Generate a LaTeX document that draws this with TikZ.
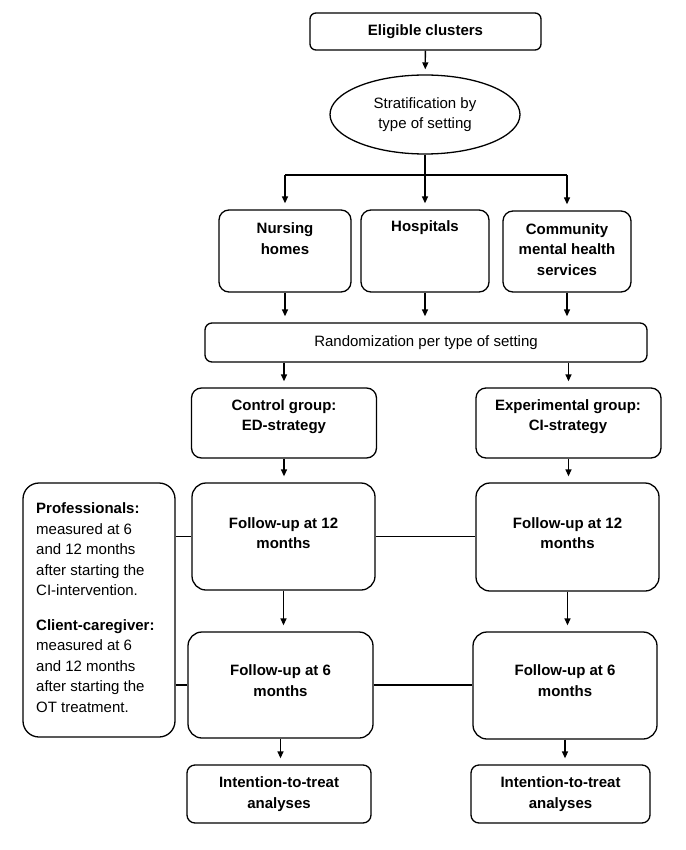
\documentclass[tikz,border=0pt]{standalone}
\usepackage{fontspec}
\setmainfont{Liberation Sans}
\usetikzlibrary{shapes.geometric,arrows.meta}

\newcommand{\diagfont}{\fontsize{15}{20.5}\selectfont}

\tikzset{
  box/.style={draw, line width=1.3pt, rounded corners=10pt, inner sep=0pt},
  lbl/.style={font=\diagfont\bfseries, align=center, inner sep=0pt},
  arr/.style={-{Triangle[length=7pt,width=6pt]}, line width=1.3pt, shorten >=6pt},
  link/.style={line width=1.2pt},
}

\begin{document}
\begin{tikzpicture}[x=1pt,y=-1pt]
\useasboundingbox (0,0) rectangle (685,850);

% top
\node[box, rounded corners=6pt, minimum width=231, minimum height=37, font=\diagfont\bfseries] (elig) at (425.5,31.5) {Eligible clusters};
\node[draw, ellipse, line width=1.3pt, minimum width=190, minimum height=79, inner sep=0pt, align=center, font=\diagfont] (strat) at (425,114.5) {Stratification by\\type of setting};

% settings
\node[box, minimum width=132, minimum height=82] (nh) at (285,251) {};
\node[lbl] (nhtext) at (285,238.5) {Nursing\\homes};
\node[box, minimum width=128, minimum height=82] (hosp) at (425,251) {};
\node[lbl] (hosptext) at (425,228) {Hospitals};
\node[box, minimum width=128, minimum height=81] (cmhs) at (567,251.5) {};
\node[lbl] (cmhstext) at (567,249.5) {Community\\mental health\\services};

\node[box, rounded corners=7pt, minimum width=442, minimum height=39, font=\diagfont] (rand) at (426,342.5) {Randomization per type of setting};

% groups
\node[box, minimum width=185, minimum height=70] (ctrl) at (284,423) {};
\node[lbl] (ctrltext) at (284,416.5) {Control group:\\ED-strategy};
\node[box, minimum width=185, minimum height=70] (expr) at (568.5,423) {};
\node[lbl] (exprtext) at (568,416.5) {Experimental group:\\CI-strategy};

% follow-up
\node[box, rounded corners=14pt, minimum width=183, minimum height=107] (fu12l) at (283.5,536.5) {};
\node[lbl] (fu12ltext) at (283.5,533) {Follow-up at 12\\months};
\node[box, rounded corners=14pt, minimum width=183, minimum height=108] (fu12r) at (567.5,537) {};
\node[lbl] (fu12rtext) at (567.5,533) {Follow-up at 12\\months};
\node[box, rounded corners=14pt, minimum width=185, minimum height=106] (fu6l) at (280.5,685) {};
\node[lbl] (fu6ltext) at (280.5,680.5) {Follow-up at 6\\months};
\node[box, rounded corners=14pt, minimum width=184, minimum height=107] (fu6r) at (565,685.5) {};
\node[lbl] (fu6rtext) at (565,680.5) {Follow-up at 6\\months};

% analyses
\node[box, rounded corners=8pt, minimum width=184, minimum height=58, align=center, font=\diagfont\bfseries] (itl) at (279,794) {Intention-to-treat\\analyses};
\node[box, rounded corners=8pt, minimum width=179, minimum height=58, align=center, font=\diagfont\bfseries] (itr) at (560.5,794) {Intention-to-treat\\analyses};

% measurement note
\node[box, rounded corners=16pt, minimum width=152, minimum height=254] (note) at (99,610) {};
\node[anchor=west, align=left, inner sep=0pt, font=\diagfont] (notetext) at (36,607.5)
  {\textbf{Professionals:}\\measured at 6\\and 12 months\\after starting the\\CI-intervention.\\[14pt]
   \textbf{Client-caregiver:}\\measured at 6\\and 12 months\\after starting the\\OT treatment.};

% connectors
\coordinate (split) at (425,175);
\draw[arr, shorten >=5pt] (elig) -- (strat);
\draw[link] (strat.south) -- (split);
\draw[link] (nh.north |- split) -- (cmhs.north |- split);
\foreach \n in {nh,hosp,cmhs} {
  \draw[arr] (\n.north |- split) -- (\n);
  \draw[arr] (\n.south) -- (\n.south |- rand.north);
}
\draw[arr] (ctrl.north |- rand.south) -- (ctrl);
\draw[arr] (expr.north |- rand.south) -- (expr);
\foreach \a/\b in {ctrl/fu12l,expr/fu12r,fu12l/fu6l,fu12r/fu6r,fu6l/itl,fu6r/itr}
  \draw[arr] (\a.south) -- (\a.south |- \b.north);
\draw[link] (note.east |- fu12l.west) -- (fu12l.west);
\draw[link] (fu12l.east) -- (fu12l.east -| fu12r.west);
\draw[link] (note.east |- fu6l.west) -- (fu6l.west);
\draw[link] (fu6l.east) -- (fu6l.east -| fu6r.west);
\end{tikzpicture}
\end{document}
